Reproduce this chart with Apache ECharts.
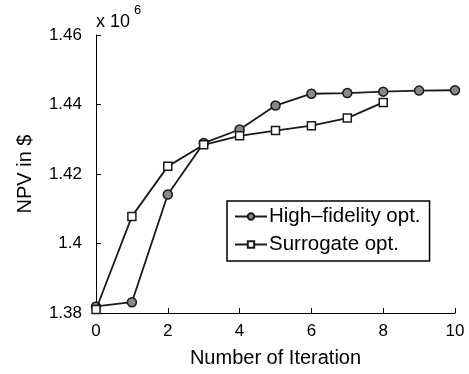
<!DOCTYPE html>
<html>
<head>
<meta charset="utf-8">
<script src="https://cdn.jsdelivr.net/npm/echarts@6/dist/echarts.min.js"></script>
<style>html,body{margin:0;padding:0;background:#fff}#c{width:469px;height:374px}</style>
</head>
<body>
<div id="c"></div>
<script>
var iterations = [0,1,2,3,4,5,6,7,8,9,10];
var highFidelity = [1.3819,1.3831,1.4141,1.4289,1.4328,1.4397,1.4431,1.4433,1.4437,1.4440,1.4441];
var surrogateIter = [0,1,2,3,4,5,6,7,8];
var surrogate = [1.3810,1.4078,1.4222,1.4284,1.4310,1.4325,1.4339,1.4361,1.4406];
var yTicks = [1.38,1.40,1.42,1.44,1.46];
var xTicks = [0,2,4,6,8,10];

var FONT = 'Liberation Sans';
var chart = echarts.init(document.getElementById('c'));
chart.setOption({
  animation:false,
  backgroundColor:'#fff',
  textStyle:{fontFamily:FONT},
  grid:{left:96,right:14,top:35,bottom:61},
  xAxis:{type:'value',min:0,max:10,interval:2,
    name:'Number of Iteration',nameLocation:'middle',nameGap:35,
    nameTextStyle:{fontFamily:FONT,fontSize:20,color:'#000'},
    axisLine:{show:true,onZero:false,lineStyle:{color:'#000',width:1}},
    axisTick:{show:true,inside:true,length:5,lineStyle:{color:'#000'}},
    axisLabel:{fontFamily:FONT,fontSize:17,color:'#000',margin:10},
    splitLine:{show:false}},
  yAxis:{type:'value',min:1.38,max:1.46,interval:0.02,
    name:'NPV in $',nameLocation:'middle',nameGap:61,
    nameTextStyle:{fontFamily:FONT,fontSize:20,color:'#000'},
    axisLine:{show:true,lineStyle:{color:'#000',width:1}},
    axisTick:{show:true,inside:true,length:5,lineStyle:{color:'#000'}},
    axisLabel:{fontFamily:FONT,fontSize:17,color:'#000',margin:14,
      formatter:function(v){return String(+v.toFixed(2));}},
    splitLine:{show:false}},
  legend:{orient:'vertical',left:227,top:201,
    backgroundColor:'#fff',borderColor:'#000',borderWidth:1.5,borderRadius:0,
    padding:[5,9,6,7],itemGap:7,itemWidth:32,itemHeight:8,
    textStyle:{fontFamily:FONT,fontSize:20.5,color:'#000',padding:[0,0,0,-3]},
    data:['High\u2013fidelity opt.','Surrogate opt.']},
  series:[
    {name:'High\u2013fidelity opt.',type:'line',
      data:iterations.map(function(x,i){return [x,highFidelity[i]];}),
      symbol:'circle',symbolSize:9,showAllSymbol:true,
      lineStyle:{color:'#1a1a1a',width:1.8},
      itemStyle:{color:'#888888',borderColor:'#1a1a1a',borderWidth:1.5},
      z:3},
    {name:'Surrogate opt.',type:'line',
      data:surrogateIter.map(function(x,i){return [x,surrogate[i]];}),
      symbol:'rect',symbolSize:8,showAllSymbol:true,
      lineStyle:{color:'#1a1a1a',width:1.8},
      itemStyle:{color:'#ffffff',borderColor:'#1a1a1a',borderWidth:1.5},
      z:4}
  ],
  graphic:[
    {type:'text',left:96,top:13,style:{text:'x 10',fontSize:18,fontFamily:FONT,fill:'#000'}},
    {type:'text',left:134,top:4,style:{text:'6',fontSize:13,fontFamily:FONT,fill:'#000'}}
  ]
});
</script>
</body>
</html>
